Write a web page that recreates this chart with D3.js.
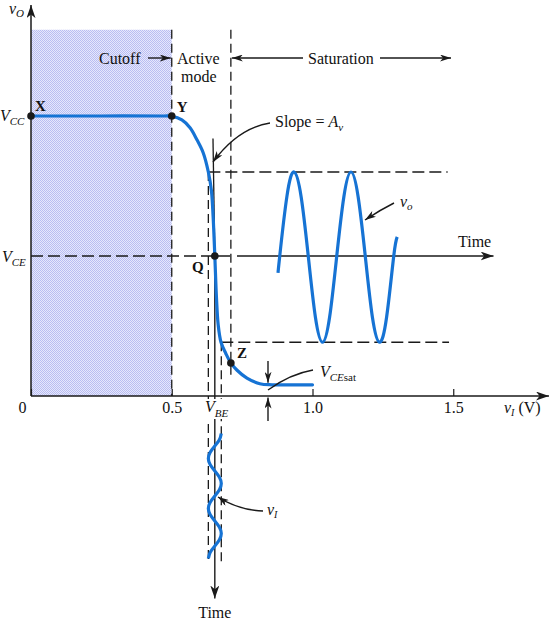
<!DOCTYPE html>
<html>
<head>
<meta charset="utf-8">
<script src="https://cdn.jsdelivr.net/npm/d3@7"></script>
<style>
  html, body { margin: 0; padding: 0; background: #fff; }
  svg { display: block; }
  text { font-family: "Liberation Serif", "Times New Roman", serif; fill: #111; }
</style>
</head>
<body>
<svg id="chart" width="555" height="623"></svg>
<script>
// ---------------- data ----------------
const xTickValues = [0, 0.5, 1.0, 1.5];
const xTickLabels = ["0", "0.5", "1.0", "1.5"];

// voltage transfer characteristic (vI in V, vO in V)
const vtcVI = [0, 0.25, 0.47, 0.501, 0.536, 0.565, 0.590, 0.612, 0.630, 0.641, 0.647, 0.653, 0.659, 0.665, 0.675, 0.692, 0.710, 0.732, 0.767, 0.813, 0.856, 0.93, 1.0];
const vtcVO = [5.0, 5.0, 5.0, 4.995, 4.93, 4.79, 4.57, 4.34, 4.00, 3.66, 3.20, 2.50, 1.74, 1.27, 0.96, 0.76, 0.59, 0.46, 0.32, 0.22, 0.20, 0.20, 0.20];

const VCC = 5.0, VCE = 2.5, VCEsat = 0.2;
const VBE = 0.653, viMin = 0.630, viMax = 0.676;
const voMax = 4.0, voMin = 0.96;
const cutoffEdge = 0.5, satEdge = 0.71;

const pointNames = ["X", "Y", "Q", "Z"];
const pointVI = [0, 0.5, 0.653, 0.71];
const pointVO = [5.0, 5.0, 2.5, 0.59];

// output waveform vo(t): time in periods, value in V
const voWaveT = [0.72, 0.75, 0.875, 1.0, 1.125, 1.25, 1.375, 1.5, 1.625, 1.75, 1.875, 2.0, 2.125, 2.25, 2.375, 2.5, 2.625, 2.75, 2.81];
const voWaveV = [2.20, 2.5, 3.56, 4.0, 3.56, 2.5, 1.41, 0.96, 1.41, 2.5, 3.56, 4.0, 3.56, 2.5, 1.41, 0.96, 1.41, 2.5, 2.84];

// input waveform vi(t): time in periods (downward), value in V
const viWaveT = [0.75, 0.875, 1.0, 1.125, 1.25, 1.375, 1.5, 1.625, 1.75, 1.875, 2.0, 2.125, 2.25, 2.375, 2.5, 2.625, 2.75, 2.875, 3.0, 3.125, 3.25];
const viWaveV = [0.676, 0.6693, 0.653, 0.6367, 0.630, 0.6367, 0.653, 0.6693, 0.676, 0.6693, 0.653, 0.6367, 0.630, 0.6367, 0.653, 0.6693, 0.676, 0.6693, 0.653, 0.6367, 0.630];

// ---------------- scales ----------------
const svg = d3.select("#chart");
const x = d3.scaleLinear().domain([0, 1.5]).range([31, 453.25]);
const y = d3.scaleLinear().domain([0, 5]).range([396, 116]);
const tO = d3.scaleLinear().domain([0, 1]).range([237, 294]);      // horizontal time for vo
const tI = d3.scaleLinear().domain([0, 1]).range([396, 446]);      // vertical time for vi

const BLUE = "#1673d4";
const INK = "#1a1a1a";

// markers
const defs = svg.append("defs");
function marker(id, len, wid) {
  defs.append("marker").attr("id", id)
    .attr("viewBox", `0 0 ${len} ${wid}`)
    .attr("refX", len).attr("refY", wid / 2)
    .attr("markerWidth", len).attr("markerHeight", wid)
    .attr("markerUnits", "userSpaceOnUse").attr("orient", "auto")
    .append("path")
    .attr("d", `M0,0 L${len},${wid / 2} L0,${wid} L${len * 0.28},${wid / 2} Z`)
    .attr("fill", INK);
}
marker("big", 13, 9);
marker("small", 11, 7);

// shading pattern
const pat = defs.append("pattern").attr("id", "dots")
  .attr("width", 2).attr("height", 2).attr("patternUnits", "userSpaceOnUse");
pat.append("rect").attr("width", 2).attr("height", 2).attr("fill", "#e6e8fc");
pat.append("rect").attr("width", 1).attr("height", 1).attr("fill", "#b9bdf2");
pat.append("rect").attr("x", 1).attr("y", 1).attr("width", 1).attr("height", 1).attr("fill", "#b9bdf2");

// cutoff region
svg.append("rect")
  .attr("x", x(0)).attr("y", y(6.54))
  .attr("width", x(cutoffEdge) - x(0)).attr("height", y(0) - y(6.54))
  .attr("fill", "url(#dots)");

const dash = "9,5";
function dline(x1, y1, x2, y2, d = dash, w = 1.3) {
  return svg.append("line").attr("x1", x1).attr("y1", y1).attr("x2", x2).attr("y2", y2)
    .attr("stroke", INK).attr("stroke-width", w).attr("stroke-dasharray", d);
}

// region boundaries
dline(x(cutoffEdge), y(6.54), x(cutoffEdge), y(0));
dline(x(satEdge), y(6.54), x(satEdge), y(0.375));

// VCE dashed level
dline(x(0), y(VCE), x(0.714), y(VCE), "12,5");
// vo extent dashed lines
dline(x(viMin), y(voMax), x(1.48), y(voMax), "12,5");
dline(x(viMax), y(voMin), x(1.485), y(voMin), "12,5");
// vi extent dashed verticals
dline(x(viMin), y(voMax), x(viMin), tI(3.32));
dline(x(viMax), y(voMin), x(viMax), tI(3.32));

// axes
svg.append("line").attr("x1", x(0)).attr("y1", y(0)).attr("x2", x(0)).attr("y2", y(6.98))
  .attr("stroke", INK).attr("stroke-width", 1.5).attr("marker-end", "url(#big)");
svg.append("line").attr("x1", x(0)).attr("y1", y(0)).attr("x2", x(1.84)).attr("y2", y(0))
  .attr("stroke", INK).attr("stroke-width", 1.5).attr("marker-end", "url(#big)");

// time axis for vo (horizontal)
svg.append("line").attr("x1", tO(0)).attr("y1", y(VCE)).attr("x2", tO(4.5)).attr("y2", y(VCE))
  .attr("stroke", INK).attr("stroke-width", 1.4).attr("marker-end", "url(#big)");
// tangent (slope) line + vertical time axis for vi
svg.append("line").attr("x1", x(0.6465)).attr("y1", y(4.6)).attr("x2", x(VBE)).attr("y2", y(VCE))
  .attr("stroke", INK).attr("stroke-width", 1.3);
svg.append("line").attr("x1", x(VBE)).attr("y1", y(VCE)).attr("x2", x(VBE)).attr("y2", tI(4.05))
  .attr("stroke", INK).attr("stroke-width", 1.4).attr("marker-end", "url(#big)");

// white backing behind the V_BE label (lines pass behind it)
svg.append("rect").attr("x", 203).attr("y", y(0) + 3).attr("width", 27).attr("height", 20).attr("fill", "#fff");

const xAxis = d3.axisBottom(x).tickValues(xTickValues)
  .tickSizeInner(-7).tickSizeOuter(0).tickPadding(5.5)
  .tickFormat((d, i) => xTickLabels[i]);
const gx = svg.append("g").attr("transform", `translate(0,${y(0)})`).call(xAxis);
gx.select(".domain").remove();
gx.selectAll(".tick line").attr("stroke", INK).attr("stroke-width", 1.2);
gx.selectAll(".tick text").attr("font-size", 16).attr("fill", INK)
  .attr("font-family", '"Liberation Serif", "Times New Roman", serif');
gx.selectAll(".tick").filter(d => d === 0).select("text").attr("dx", -9);

// VTC curve
const vtc = vtcVI.map((v, i) => [v, vtcVO[i]]);
svg.append("path").datum(vtc)
  .attr("d", d3.line().x(d => x(d[0])).y(d => y(d[1])).curve(d3.curveCatmullRom.alpha(0.5)))
  .attr("fill", "none").attr("stroke", BLUE).attr("stroke-width", 3.2)
  .attr("stroke-linecap", "round");

// vo waveform
const vo = voWaveT.map((t, i) => [t, voWaveV[i]]);
svg.append("path").datum(vo)
  .attr("d", d3.line().x(d => tO(d[0])).y(d => y(d[1])).curve(d3.curveNatural))
  .attr("fill", "none").attr("stroke", BLUE).attr("stroke-width", 3.2);

// vi waveform
const vi = viWaveT.map((t, i) => [t, viWaveV[i]]);
svg.append("path").datum(vi)
  .attr("d", d3.line().x(d => x(d[1])).y(d => tI(d[0])).curve(d3.curveNatural))
  .attr("fill", "none").attr("stroke", BLUE).attr("stroke-width", 3.2);

// points
svg.selectAll("circle.pt").data(pointNames).enter().append("circle")
  .attr("class", "pt")
  .attr("cx", (d, i) => x(pointVI[i])).attr("cy", (d, i) => y(pointVO[i]))
  .attr("r", 3.8).attr("fill", INK);

// point labels
const lbl = (t, px, py, opts = {}) => {
  const e = svg.append("text").attr("x", px).attr("y", py).attr("font-size", opts.size || 16).text(t);
  if (opts.bold) e.attr("font-weight", "bold");
  if (opts.italic) e.attr("font-style", "italic");
  if (opts.anchor) e.attr("text-anchor", opts.anchor);
  return e;
};
lbl("X", x(0) + 4, y(VCC) - 5, { bold: true, size: 15 });
lbl("Y", x(0.5) + 5, y(VCC) - 4, { bold: true, size: 15 });
lbl("Q", 192, y(VCE) + 16, { bold: true, size: 15 });
lbl("Z", 237, 358, { bold: true, size: 15 });

// subscripted labels
function sub(px, py, main, subs, opts = {}) {
  const t = svg.append("text").attr("x", px).attr("y", py).attr("font-size", opts.size || 16);
  if (opts.anchor) t.attr("text-anchor", opts.anchor);
  t.append("tspan").attr("font-style", "italic").text(main);
  subs.forEach((s, i) => {
    const ts = t.append("tspan").attr("font-size", s.size || 11).text(s.text);
    if (s.italic) ts.attr("font-style", "italic");
    if (i === 0) ts.attr("dy", s.dy !== undefined ? s.dy : 4);
    else if (s.dy !== undefined) ts.attr("dy", s.dy);
  });
  return t;
}
sub(9, 14, "v", [{ text: "O", italic: true, dy: 3 }]);
sub(0, 121, "V", [{ text: "CC", italic: true, dy: 4 }]);
sub(2, 262, "V", [{ text: "CE", italic: true, dy: 4 }]);
sub(205, 412, "V", [{ text: "BE", italic: true, dy: 5 }]);
sub(504, 413, "v", [{ text: "I", italic: true, dy: 3, size: 10 }, { text: " (V)", size: 16, dy: -3 }]);
sub(320, 377, "V", [{ text: "CE", italic: true, dy: 4, size: 11 }, { text: "sat", size: 11 }]);
sub(400, 207, "v", [{ text: "o", italic: true, dy: 3, size: 11 }]);
sub(267, 515, "v", [{ text: "I", italic: true, dy: 3, size: 10 }]);
const sl = svg.append("text").attr("x", 275).attr("y", 127).attr("font-size", 16);
sl.append("tspan").text("Slope = ");
sl.append("tspan").attr("font-style", "italic").text("A");
sl.append("tspan").attr("font-style", "italic").attr("font-size", 11).attr("dy", 4).text("v");

// region labels
lbl("Cutoff", 99, 64);
lbl("Active", 177, 64);
lbl("mode", 181, 82);
lbl("Saturation", 308, 64);
lbl("Time", 458, 247);
lbl("Time", x(VBE), 618, { anchor: "middle" });

// region arrows
function arrow(x1, y1, x2, y2, m = "small", w = 1.4) {
  return svg.append("line").attr("x1", x1).attr("y1", y1).attr("x2", x2).attr("y2", y2)
    .attr("stroke", INK).attr("stroke-width", w).attr("marker-end", `url(#${m})`);
}
arrow(148, 58, x(cutoffEdge) - 1, 58);
arrow(303, 58, x(satEdge) + 1, 58);
arrow(380, 58, 451, 58);

// VCEsat arrows
arrow(268, 361, 268, y(VCEsat) - 2);
arrow(268, 421, 268, y(0) + 1.5);

// curved annotation arrows
function carrow(d) {
  svg.append("path").attr("d", d).attr("fill", "none").attr("stroke", INK)
    .attr("stroke-width", 1.4).attr("marker-end", "url(#small)");
}
carrow("M270,123 Q238,128 213,162");
carrow("M394,203 Q380,210 365,220");
carrow("M263,511 Q238,510 218,497");
svg.append("path").attr("d", "M268,390 Q290,374 313,370").attr("fill", "none")
  .attr("stroke", INK).attr("stroke-width", 1.4);
</script>
</body>
</html>
